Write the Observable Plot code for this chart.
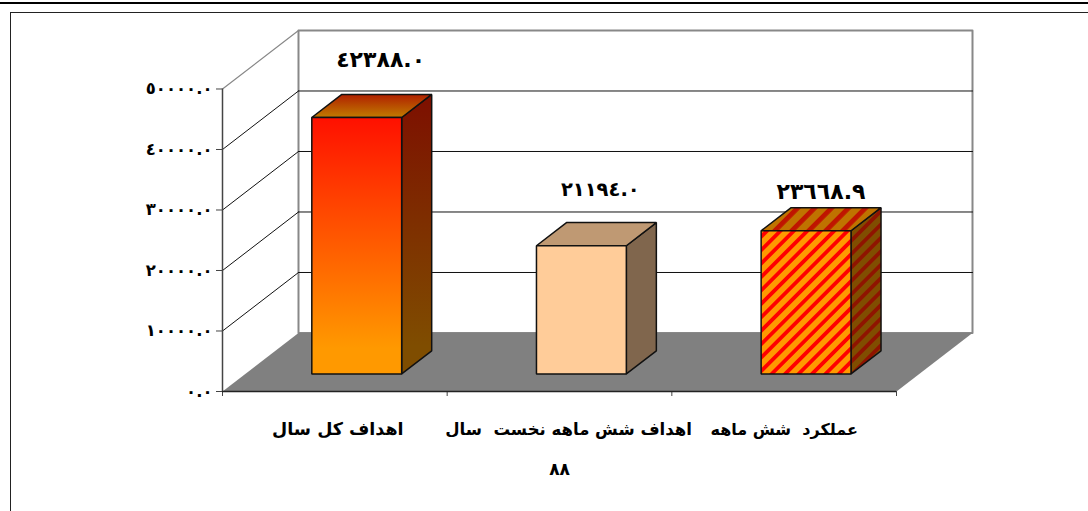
<!DOCTYPE html>
<html><head><meta charset="utf-8">
<script src="https://cdn.jsdelivr.net/npm/d3@7"></script>
<script src="https://cdn.jsdelivr.net/npm/@observablehq/plot@0.6"></script>
<style>
html,body{margin:0;padding:0;background:#fff;overflow:hidden}
#page{position:relative;width:1088px;height:511px;overflow:hidden}
#rule{position:absolute;left:0;top:2px;width:1088px;height:2px;background:#000}
#box{position:absolute;left:10px;top:12px;width:1100px;height:520px;border:1.5px solid #222}
#chart{position:absolute;left:0;top:0}
svg{display:block;background:transparent!important}
</style></head><body>
<div id="page"><div id="rule"></div><div id="box"></div><div id="chart"></div></div>
<script>
const categories = ["اهداف کل سال", "اهداف شش ماهه نخست  سال", "عملکرد  شش ماهه"];
const categorySecondLine = ["", "۸۸", ""];
const values = [42388.0, 21194.0, 23668.9];
const valueLabels = ["٤٢٣٨٨.٠", "٢١١٩٤.٠", "٢٣٦٦٨.٩"];
const yTicks = [0, 10000, 20000, 30000, 40000, 50000];
const xTicks = [0, 1, 2, 3];

const toArabic = s => String(s).replace(/\d/g, d => "٠١٢٣٤٥٦٧٨٩"[+d]);
const depthX = 76 / 224.67, depthY = 58.5 / 60.5 * 10000;
const at = (x, y, d = 0) => ({x: x + d * depthX, y: y + d * depthY});
const d0 = 0.30, d1 = 0.695, half = 0.2;

const defs = () => {
  const s = d3.create("svg:defs");
  const grad = (id, a, b) => {
    const g = s.append("linearGradient").attr("id", id).attr("x1", 0).attr("y1", 0).attr("x2", 0).attr("y2", 1);
    g.append("stop").attr("offset", "0").attr("stop-color", a);
    g.append("stop").attr("offset", "0.9").attr("stop-color", b);
  };
  grad("g1front", "#ff1000", "#ff9900");
  grad("g1side", "#7d0f00", "#7f4d00");
  grad("g1top", "#b02000", "#bf7300");
  const pat = (id, bg, fg, size) => {
    const p = s.append("pattern").attr("id", id).attr("patternUnits", "userSpaceOnUse")
      .attr("width", size).attr("height", size).attr("patternTransform", "rotate(45)");
    p.append("rect").attr("width", size).attr("height", size).attr("fill", bg);
    p.append("rect").attr("width", size * 0.4).attr("height", size).attr("fill", fg);
  };
  pat("p3front", "#ff9900", "#ff0000", 9.5);
  pat("p3side", "#804d00", "#8f1400", 9.5);
  pat("p3top", "#bf7300", "#bf1500", 12);
  return s.node();
};

const faces = [
  {front: "url(#g1front)", side: "url(#g1side)", top: "url(#g1top)"},
  {front: "#ffcc99", side: "#80664d", top: "#bf9973"},
  {front: "url(#p3front)", side: "url(#p3side)", top: "url(#p3top)"}
];

const poly = (pts, o) => Plot.line(pts, {x: "x", y: "y", curve: "linear-closed", ...o});
const barMarks = values.flatMap((v, i) => {
  const c = i + 0.496, l = c - half, r = c + half, f = faces[i];
  const edge = {stroke: "#111", strokeWidth: 1.5, strokeLinejoin: "miter"};
  return [
    poly([at(r, 0, d0), at(r, 0, d1), at(r, v, d1), at(r, v, d0)], {fill: f.side, ...edge}),
    poly([at(l, v, d0), at(r, v, d0), at(r, v, d1), at(l, v, d1)], {fill: f.top, ...edge}),
    poly([at(l, 0, d0), at(r, 0, d0), at(r, v, d0), at(l, v, d0)], {fill: f.front, ...edge})
  ];
});

const nudge = [[23, -34], [18, -33], [14, -16]];
const labelSize = [22, 19.5, 22];
const font = "'DejaVu Sans', sans-serif";
const labelMarks = values.map((v, i) => Plot.text([valueLabels[i]], {
  text: d => d, x: () => i + 0.5 + d0 * depthX, y: () => at(0, v, d1).y,
  dx: nudge[i][0], dy: nudge[i][1], fontSize: labelSize[i], fontWeight: "bold", fontFamily: font, fill: "#000"
}));
const catNudge = [3, 9, 0];
const catSize = [17.5, 16.5, 16];
const catMarks = categories.map((c, i) => Plot.text([c], {
  text: d => d, x: () => i + 0.5, y: () => 0, dx: catNudge[i], dy: 38,
  fontSize: catSize[i], fontWeight: "bold", fontFamily: font, fill: "#000", textAnchor: "middle"
}));
const catMarks2 = categorySecondLine.map((c, i) => Plot.text([c], {
  text: d => d, x: () => i + 0.5, y: () => 0, dy: 78,
  fontSize: 17, fontWeight: "bold", fontFamily: font, fill: "#000", textAnchor: "middle"
}));

const gridBack = yTicks.slice(1, 5).map(t => [at(0, t, 1), at(3, t, 1)]);
const gridSide = yTicks.slice(1, 5).map(t => [at(0, t, 0), at(0, t, 1)]);

const chart = Plot.plot({
  width: 1088, height: 511,
  marginLeft: 222, marginRight: 116, marginTop: 30, marginBottom: 120,
  style: {background: "transparent", overflow: "visible"},
  x: {type: "linear", domain: [0, 3 + depthX], axis: null},
  y: {type: "linear", domain: [0, 59669], axis: null},
  marks: [
    defs,
    poly([at(0, 0, 1), at(3, 0, 1), at(3, 50000, 1), at(0, 50000, 1)], {fill: "#fff", stroke: "#888", strokeWidth: 2}),
    poly([at(0, 50000, 0), at(0, 50000, 1)], {stroke: "#888", curve: "linear", strokeWidth: 1.2}),
    ...gridBack.map(g => Plot.line(g, {x: "x", y: "y", stroke: "#111", strokeWidth: 1})),
    ...gridSide.map(g => Plot.line(g, {x: "x", y: "y", stroke: "#111", strokeWidth: 1})),
    poly([at(0, 0, 0), at(3, 0, 0), at(3, 0, 1), at(0, 0, 1)], {fill: "#808080"}),
    Plot.axisY({ticks: yTicks, tickFormat: d => toArabic(d.toFixed(1)), tickSize: 6, tickPadding: 4,
      anchor: "left", label: null, stroke: "#444", fontSize: 16.5, fontWeight: "bold", fontFamily: font, fill: "#000"}),
    Plot.axisX({ticks: xTicks, tickFormat: () => "", tickSize: 5, anchor: "bottom", label: null, stroke: "#444"}),
    Plot.ruleX([0], {y1: 0, y2: 50000, stroke: "#444", strokeWidth: 1.5}),
    Plot.ruleY([0], {x1: 0, x2: 3, stroke: "#222", strokeWidth: 1.5}),
    ...barMarks,
    ...labelMarks,
    ...catMarks,
    ...catMarks2
  ]
});
document.getElementById("chart").append(chart);
</script>
</body></html>
